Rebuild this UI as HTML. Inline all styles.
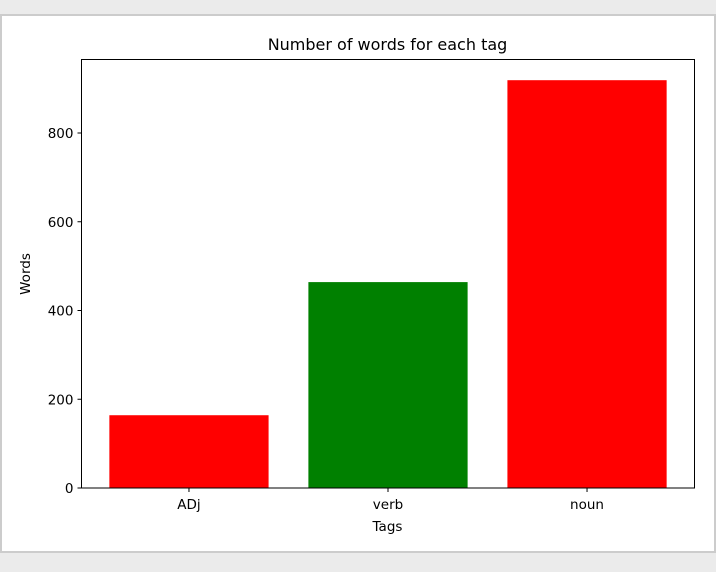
<!DOCTYPE html>
<html><head><meta charset="utf-8"><style>
html,body{margin:0;padding:0;background:#ebebeb;}
svg{display:block;font-family:"DejaVu Sans","Liberation Sans",sans-serif;}
</style></head><body>
<svg id="c" width="716" height="572">
<rect x="0" y="0" width="716" height="572" fill="#ebebeb"/>
<rect x="1" y="15" width="714" height="537" fill="#ffffff" stroke="#cccccc" stroke-width="2"/>
<g id="marks"></g>
<rect x="81.5" y="59.5" width="613" height="428.5" fill="none" stroke="#000" stroke-width="1"/>
<text x="387.5" y="50" text-anchor="middle" font-size="16" fill="#000">Number of words for each tag</text>
<text x="387.5" y="531" text-anchor="middle" font-size="13.5" fill="#000">Tags</text>
<text x="30" y="274" text-anchor="middle" font-size="13.5" fill="#000" transform="rotate(-90 30 274)">Words</text>
</svg>
<script>
const categories = ["ADj","verb","noun"];
const values = [164,464,919];
const colors = ["#ff0000","#008000","#ff0000"];
const yTicks = [0,200,400,600,800];
const X0=81.5, X1=694.5, Y0=488, YPER=88.75/200;
const xMin=-0.54, xMax=2.54;
function xs(v){return X0+(v-xMin)/(xMax-xMin)*(X1-X0);}
function ys(v){return Y0-v*YPER;}
const NS="http://www.w3.org/2000/svg";
const g=document.getElementById('marks');
function mk(t,a){const e=document.createElementNS(NS,t);for(const k in a)e.setAttribute(k,a[k]);return e;}
categories.forEach((c,i)=>{
  const l=xs(i-0.4), r=xs(i+0.4);
  const b=mk('rect',{x:l,y:ys(values[i]),width:r-l,height:Y0-ys(values[i]),fill:colors[i]});
  
  
  g.appendChild(b);
  const t=mk('line',{x1:xs(i),x2:xs(i),y1:Y0,y2:Y0+4,stroke:'#000'});
  
  
  g.appendChild(t);
  const tx=mk('text',{x:xs(i),y:Y0+21,'text-anchor':'middle','font-size':'13.5',fill:'#000'});
  tx.textContent=c;
  
  
  g.appendChild(tx);
});
yTicks.forEach(v=>{
  const y=ys(v);
  const t=mk('line',{x1:X0-4,x2:X0,y1:y,y2:y,stroke:'#000'});
  
  
  g.appendChild(t);
  const tx=mk('text',{x:X0-8,y:y+5,'text-anchor':'end','font-size':'13.5',fill:'#000'});
  tx.textContent=v;
  
  
  g.appendChild(tx);
});
</script>
</body></html>
